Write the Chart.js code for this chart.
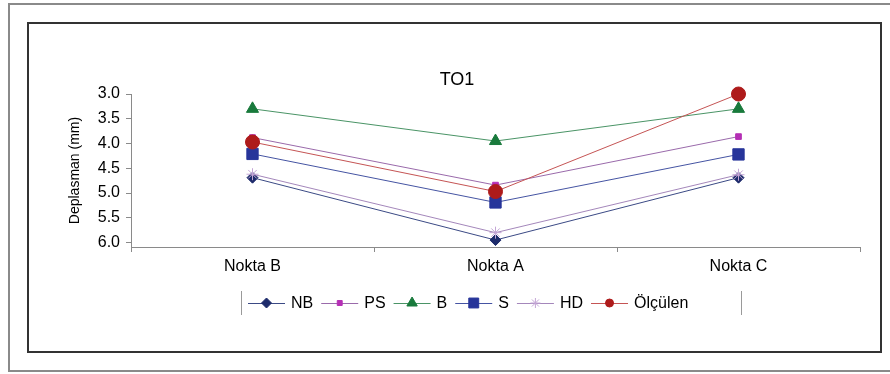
<!DOCTYPE html>
<html>
<head>
<meta charset="utf-8">
<script src="https://cdn.jsdelivr.net/npm/chart.js@4/dist/chart.umd.min.js"></script>
<style>
  body { margin: 0; background: #fff; }
  canvas { display: block; }
</style>
</head>
<body>
<canvas id="deplasman" width="890" height="374"></canvas>
<script>
// Noktalar ve seriler
const noktalar = ['Nokta B', 'Nokta A', 'Nokta C'];
const nbDegerleri = [4.69, 5.95, 4.69];
const psDegerleri = [3.88, 4.84, 3.86];
const bDegerleri = [3.30, 3.95, 3.30];
const sDegerleri = [4.21, 5.19, 4.22];
const hdDegerleri = [4.62, 5.80, 4.63];
const olculenDegerleri = [3.97, 4.97, 3.00];
const yEtiketleri = [3.0, 3.5, 4.0, 4.5, 5.0, 5.5, 6.0];

const FONT = "'Liberation Sans', Arial, sans-serif";

function seri(etiket, veri, cizgi, dolgu, stil, r, lr) {
    return {
        label: etiket,
        data: veri,
        borderColor: cizgi,
        borderWidth: 1,
        backgroundColor: dolgu,
        pointBackgroundColor: dolgu,
        pointBorderColor: dolgu,
        pointBorderWidth: 1,
        pointStyle: stil,
        pointRadius: r,
        pointHoverRadius: r,
        legendRadius: lr,
        tension: 0,
        clip: false
    };
}

const seriler = [
    seri('NB', nbDegerleri, '#3b4a85', '#1d2b6b', 'rectRot', 5.5, 5),
    seri('PS', psDegerleri, '#9a6aab', '#b52fb5', 'rect', 4, 3.5),
    seri('B', bDegerleri, '#4a9466', '#197a3c', 'triangle', 7, 6),
    seri('S', sDegerleri, '#4554a3', '#27359a', 'rect', 8, 7),
    seri('HD', hdDegerleri, '#a487bb', '#c4a6d6', 'star', 6, 5),
    seri('Ölçülen', olculenDegerleri, '#c55454', '#ae1b1b', 'circle', 7, 4)
];
// sonraki seri üstte çizilsin
seriler.forEach((s, i) => { s.order = seriler.length - i; });

// Çerçeveler, başlık ve lejant
const cerceveEklentisi = {
    id: 'cerceve',
    beforeDraw(chart) {
        const ctx = chart.ctx;
        ctx.save();
        ctx.fillStyle = '#fff';
        ctx.fillRect(0, 0, chart.width, chart.height);
        ctx.lineWidth = 2;
        ctx.strokeStyle = '#8a8a8a';
        ctx.strokeRect(9, 4, 900, 367);
        ctx.strokeStyle = '#333';
        ctx.strokeRect(28, 23, 853, 329);
        ctx.restore();
    },
    afterDraw(chart) {
        const ctx = chart.ctx;
        ctx.save();
        ctx.fillStyle = '#000';
        ctx.font = '18px ' + FONT;
        ctx.textAlign = 'center';
        ctx.textBaseline = 'middle';
        ctx.fillText('TO1', 457, 80);

        // lejant kutusu (yalnızca yan çizgiler)
        const kutuSol = 241, kutuSag = 741, yOrta = 303;
        ctx.strokeStyle = '#9a9a9a';
        ctx.lineWidth = 1;
        ctx.beginPath();
        ctx.moveTo(kutuSol + 0.5, 291); ctx.lineTo(kutuSol + 0.5, 315);
        ctx.moveTo(kutuSag + 0.5, 291); ctx.lineTo(kutuSag + 0.5, 315);
        ctx.stroke();

        ctx.font = '16px ' + FONT;
        ctx.textAlign = 'left';
        let x = kutuSol + 7;
        chart.data.datasets.forEach(ds => {
            ctx.strokeStyle = ds.borderColor;
            ctx.lineWidth = 1;
            ctx.beginPath();
            ctx.moveTo(x, yOrta + 0.5);
            ctx.lineTo(x + 37, yOrta + 0.5);
            ctx.stroke();
            ctx.fillStyle = ds.pointBackgroundColor;
            ctx.strokeStyle = ds.pointBorderColor;
            Chart.helpers.drawPoint(ctx, {
                pointStyle: ds.pointStyle,
                radius: ds.legendRadius,
                rotation: 0,
                borderWidth: 1
            }, x + 18.5, yOrta);
            x += 43;
            ctx.fillStyle = '#000';
            ctx.fillText(ds.label, x, yOrta + 1);
            x += ctx.measureText(ds.label).width + 8;
        });
        ctx.restore();
    }
};

new Chart(document.getElementById('deplasman'), {
    type: 'line',
    data: { labels: noktalar, datasets: seriler },
    plugins: [cerceveEklentisi],
    options: {
        responsive: false,
        animation: false,
        layout: { padding: { left: 62, top: 94, right: 30, bottom: 87 } },
        plugins: {
            legend: { display: false },
            title: { display: false },
            tooltip: { enabled: false }
        },
        scales: {
            x: {
                offset: true,
                grid: { offset: true, drawOnChartArea: false, drawTicks: true, tickLength: 5, color: '#8a8a8a' },
                border: { color: '#8a8a8a' },
                ticks: { color: '#000', padding: 5, font: { family: FONT, size: 16 } },
                afterFit(scale) { scale.height = 40; }
            },
            y: {
                reverse: true,
                min: 3.0,
                max: 6.09,
                grid: { drawOnChartArea: false, drawTicks: true, tickLength: 5, color: '#8a8a8a' },
                border: { color: '#8a8a8a' },
                afterBuildTicks(scale) { scale.ticks = yEtiketleri.map(v => ({ value: v })); },
                ticks: {
                    color: '#000',
                    padding: 6,
                    font: { family: FONT, size: 16 },
                    callback: v => Number(v).toFixed(1)
                },
                title: {
                    display: true,
                    text: 'Deplasman (mm)',
                    color: '#000',
                    padding: { top: 5, bottom: 0 },
                    font: { family: FONT, size: 14 }
                },
                afterFit(scale) { scale.width = 69; }
            }
        }
    }
});
</script>
</body>
</html>
